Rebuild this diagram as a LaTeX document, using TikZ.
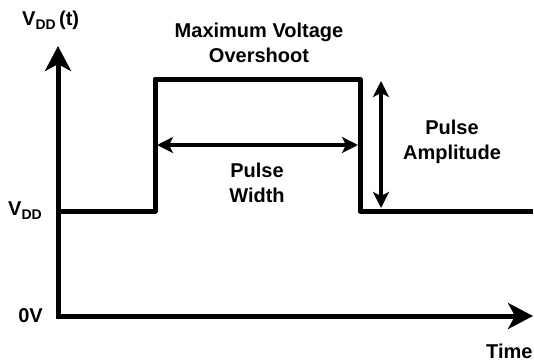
\documentclass[tikz,border=0pt]{standalone}
\usepackage{fontspec}
\setmainfont{Liberation Sans}
\usetikzlibrary{arrows.meta}
\newcommand{\lowsub}[1]{\raisebox{-4pt}{\fontsize{14}{14}\selectfont #1}}
\begin{document}
\begin{tikzpicture}[
            x=1pt, y=-1pt,
            every node/.style={font=\fontsize{20}{25.5}\selectfont\bfseries, align=center, inner sep=0pt},
            axis/.style={line width=5pt, {Stealth[length=25pt, width=26pt, inset=7pt]}-{Stealth[length=25pt, width=26pt, inset=7pt]}},
            wave/.style={line width=5pt, line join=round},
            dim/.style={line width=4pt, {Stealth[length=16pt, width=16pt, inset=4pt]}-{Stealth[length=16pt, width=16pt, inset=4pt]}}
        ]
        \useasboundingbox (0,0) rectangle (534,362);
        % axes
        \coordinate (o) at (58,316);
        \coordinate (ytip) at (58,46);
        \coordinate (xtip) at (533,316);
        \draw[axis] (ytip) -- (o) -- (xtip);
        % pulse
        \coordinate (a) at (58,211);
        \coordinate (b) at (155,211);
        \coordinate (c) at (155,79);
        \coordinate (d) at (360,79);
        \coordinate (e) at (360,211);
        \coordinate (f) at (533,211);
        \draw[wave] (a) -- (b) -- (c) -- (d) -- (e) -- (f);
        % width and amplitude
        \coordinate (wl) at (157,145);
        \coordinate (wr) at (358,145);
        \draw[dim] (wl) -- (wr);
        \coordinate (ht) at (381,81);
        \coordinate (hb) at (381,208);
        \draw[dim] (ht) -- (hb);
        % labels
        \node[anchor=base west] (vt) at (22,25) {V\lowsub{DD}\,(t)};
        \node (over) at (259,43) {Maximum Voltage\\Overshoot};
        \node (pw) at (257,183) {Pulse\\Width};
        \node (pa) at (452,142) {Pulse\\Amplitude};
        \node[anchor=base west] (vdd) at (8,215) {V\lowsub{DD}};
        \node[anchor=base east] (zero) at (43,322) {0V};
        \node[anchor=base west] (time) at (486,358) {Time};
    \end{tikzpicture}
\end{document}
